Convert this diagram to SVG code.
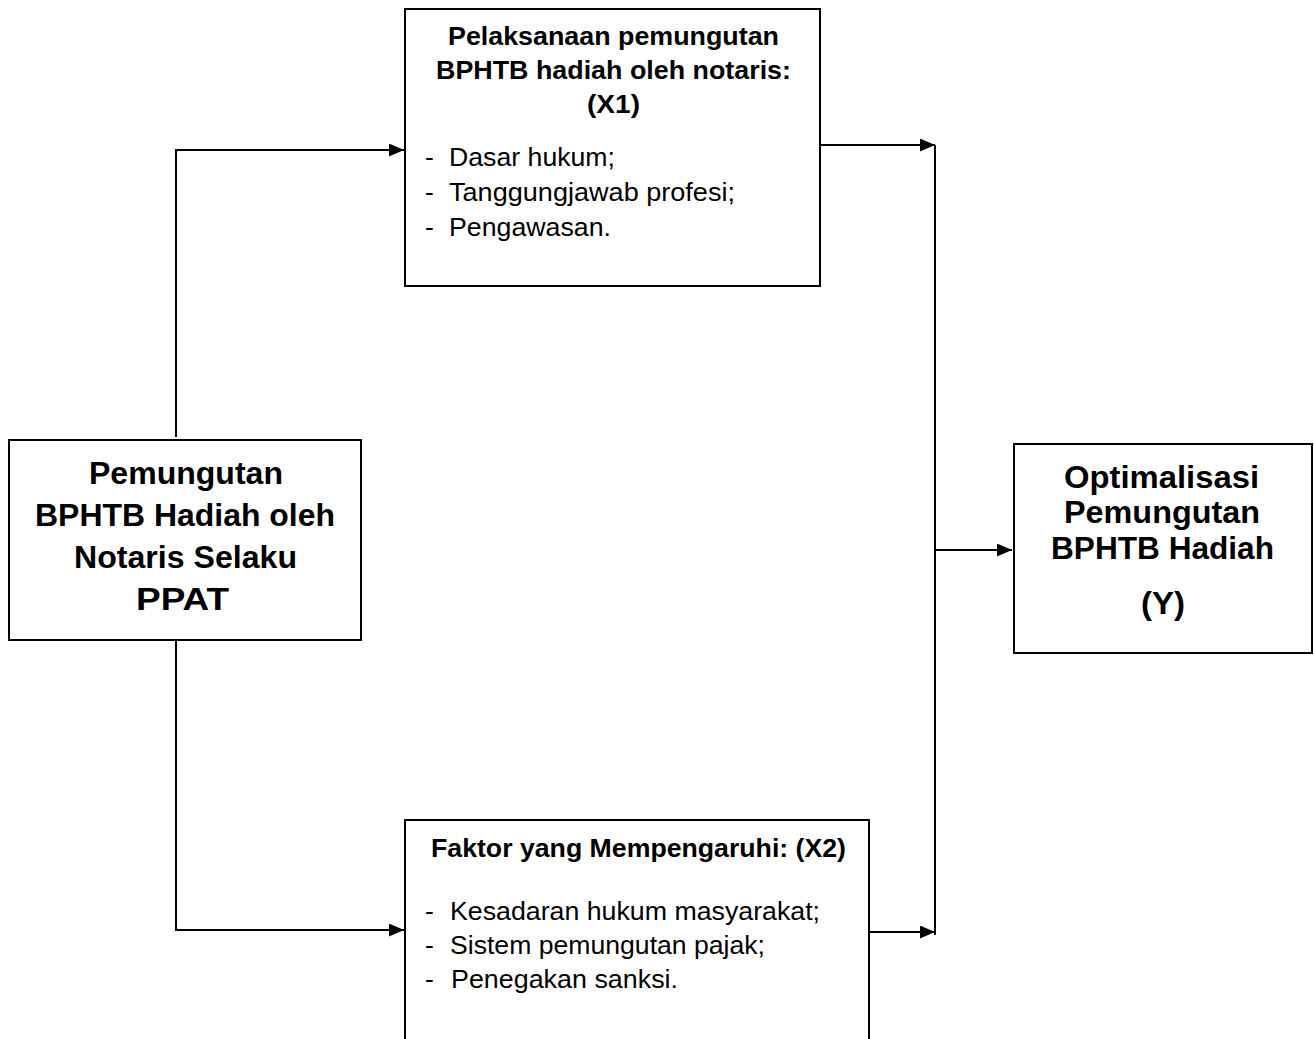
<svg xmlns="http://www.w3.org/2000/svg" width="1314" height="1039" viewBox="0 0 1314 1039">
<style>
.box{fill:#fff;stroke:#000;stroke-width:2}
.ln{fill:none;stroke:#000;stroke-width:2}
text{font-family:"Liberation Sans",Arial,sans-serif;fill:#000}
.b{font-weight:bold}
</style>
<defs>
<marker id="ah" markerWidth="15" markerHeight="13" refX="15" refY="6.5" orient="auto" markerUnits="userSpaceOnUse">
<path d="M0,0 L15,6.5 L0,13 Z" fill="#000"/>
</marker>
</defs>
<rect width="1314" height="1039" fill="#fff"/>
<g id="connectors">
<path class="ln" d="M176,437 V150 H404" marker-end="url(#ah)"/>
<path class="ln" d="M176,641 V930 H404" marker-end="url(#ah)"/>
<path class="ln" d="M821,145 H935" marker-end="url(#ah)"/>
<path class="ln" d="M869,932 H935" marker-end="url(#ah)"/>
<path class="ln" d="M935,145 V935"/>
<path class="ln" d="M935,550 H1012" marker-end="url(#ah)"/>
</g>
<g id="node-x1">
<rect class="box" x="405" y="9" width="415" height="277"/>
<text class="b" x="448" y="45" font-size="26.5" textLength="331" lengthAdjust="spacingAndGlyphs">Pelaksanaan pemungutan</text>
<text class="b" x="436" y="79" font-size="26.5" textLength="355" lengthAdjust="spacingAndGlyphs">BPHTB hadiah oleh notaris:</text>
<text class="b" x="587" y="113" font-size="26.5" textLength="53" lengthAdjust="spacingAndGlyphs">(X1)</text>
<text x="425" y="166" font-size="26.5">-</text>
<text x="449" y="166" font-size="26.5" textLength="166" lengthAdjust="spacingAndGlyphs">Dasar hukum;</text>
<text x="425" y="201" font-size="26.5">-</text>
<text x="449" y="201" font-size="26.5" textLength="286" lengthAdjust="spacingAndGlyphs">Tanggungjawab profesi;</text>
<text x="425" y="236" font-size="26.5">-</text>
<text x="449" y="236" font-size="26.5" textLength="162" lengthAdjust="spacingAndGlyphs">Pengawasan.</text>
</g>
<g id="node-left">
<rect class="box" x="9" y="440" width="352" height="200"/>
<text class="b" x="89" y="484" font-size="31" textLength="194" lengthAdjust="spacingAndGlyphs">Pemungutan</text>
<text class="b" x="35" y="526" font-size="31" textLength="300" lengthAdjust="spacingAndGlyphs">BPHTB Hadiah oleh</text>
<text class="b" x="74" y="568" font-size="31" textLength="223" lengthAdjust="spacingAndGlyphs">Notaris Selaku</text>
<text class="b" x="136" y="610" font-size="31" textLength="93" lengthAdjust="spacingAndGlyphs">PPAT</text>
</g>
<g id="node-y">
<rect class="box" x="1014" y="444" width="298" height="209"/>
<text class="b" x="1064" y="488" font-size="31" textLength="195" lengthAdjust="spacingAndGlyphs">Optimalisasi</text>
<text class="b" x="1064" y="523" font-size="31" textLength="196" lengthAdjust="spacingAndGlyphs">Pemungutan</text>
<text class="b" x="1051" y="559" font-size="31" textLength="223" lengthAdjust="spacingAndGlyphs">BPHTB Hadiah</text>
<text class="b" x="1141" y="614" font-size="31" textLength="44" lengthAdjust="spacingAndGlyphs">(Y)</text>
</g>
<g id="node-x2">
<rect class="box" x="405" y="820" width="464" height="240"/>
<text class="b" x="431" y="857" font-size="26.5" textLength="415" lengthAdjust="spacingAndGlyphs">Faktor yang Mempengaruhi: (X2)</text>
<text x="425" y="920" font-size="26.5">-</text>
<text x="450" y="920" font-size="26.5" textLength="370" lengthAdjust="spacingAndGlyphs">Kesadaran hukum masyarakat;</text>
<text x="425" y="954" font-size="26.5">-</text>
<text x="450" y="954" font-size="26.5" textLength="315" lengthAdjust="spacingAndGlyphs">Sistem pemungutan pajak;</text>
<text x="425" y="988" font-size="26.5">-</text>
<text x="451" y="988" font-size="26.5" textLength="227" lengthAdjust="spacingAndGlyphs">Penegakan sanksi.</text>
</g>
</svg>
